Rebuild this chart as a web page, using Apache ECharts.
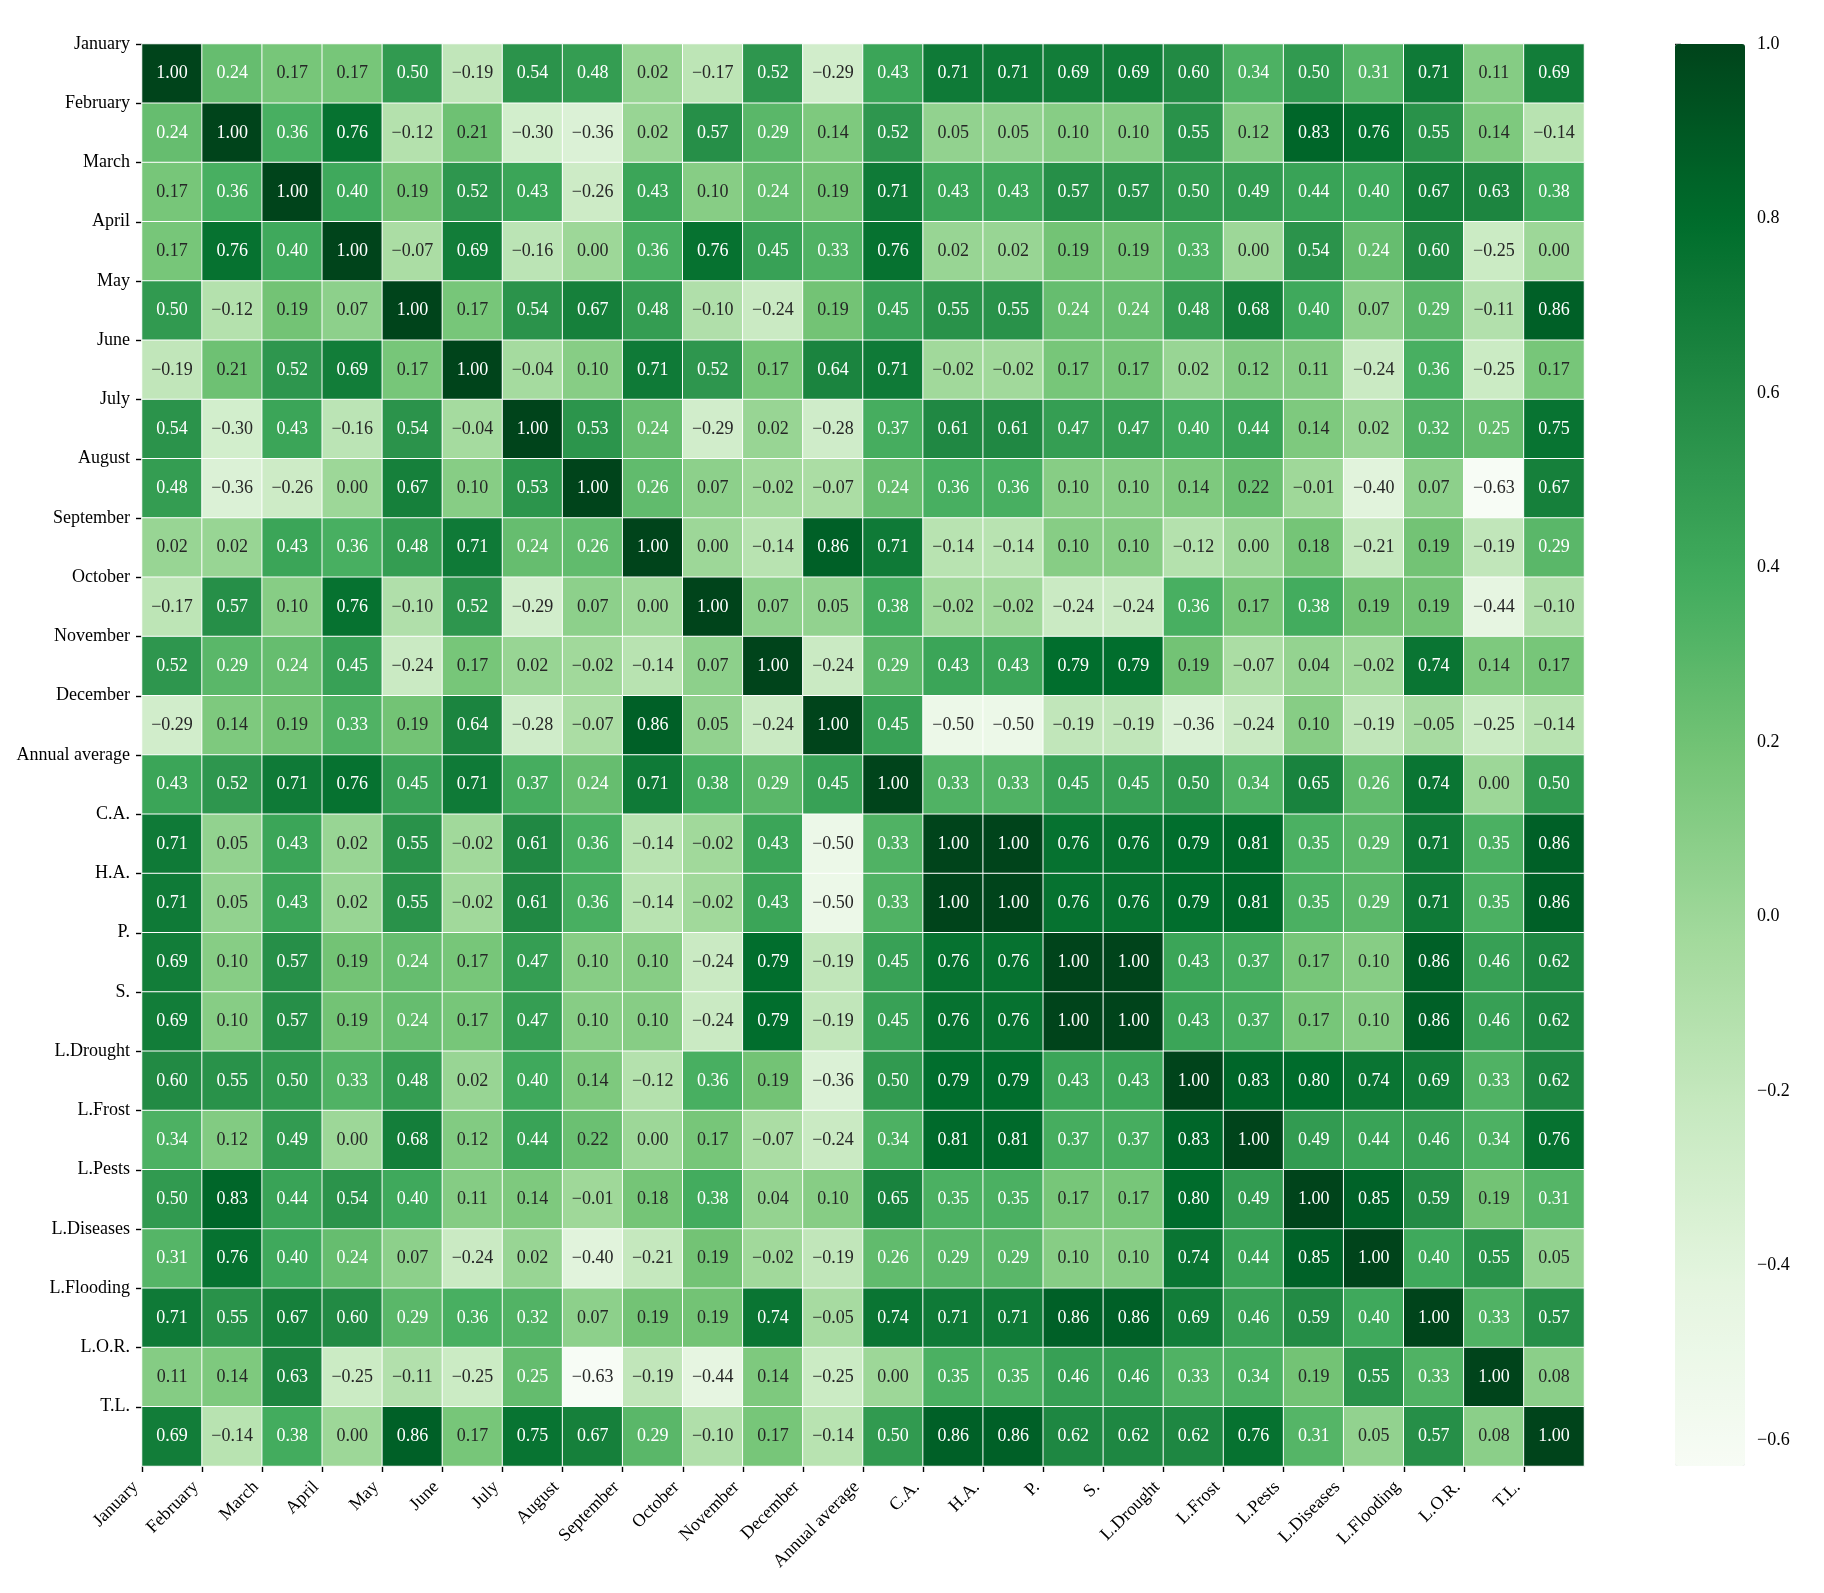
<!DOCTYPE html>
<html>
<head>
<meta charset="utf-8">
<script src="https://cdn.jsdelivr.net/npm/echarts@6/dist/echarts.min.js"></script>
<style>
html,body{margin:0;padding:0;background:#fff;}
#chart{width:1824px;height:1593px;}
</style>
</head>
<body>
<div id="chart"></div>
<script>
const labels = ['January','February','March','April','May','June','July','August','September','October','November','December','Annual average','C.A.','H.A.','P.','S.','L.Drought','L.Frost','L.Pests','L.Diseases','L.Flooding','L.O.R.','T.L.'];

const rowJanuary   = [1.00, 0.24, 0.17, 0.17, 0.50, -0.19, 0.54, 0.48, 0.02, -0.17, 0.52, -0.29, 0.43, 0.71, 0.71, 0.69, 0.69, 0.60, 0.34, 0.50, 0.31, 0.71, 0.11, 0.69];
const rowFebruary  = [0.24, 1.00, 0.36, 0.76, -0.12, 0.21, -0.30, -0.36, 0.02, 0.57, 0.29, 0.14, 0.52, 0.05, 0.05, 0.10, 0.10, 0.55, 0.12, 0.83, 0.76, 0.55, 0.14, -0.14];
const rowMarch     = [0.17, 0.36, 1.00, 0.40, 0.19, 0.52, 0.43, -0.26, 0.43, 0.10, 0.24, 0.19, 0.71, 0.43, 0.43, 0.57, 0.57, 0.50, 0.49, 0.44, 0.40, 0.67, 0.63, 0.38];
const rowApril     = [0.17, 0.76, 0.40, 1.00, -0.07, 0.69, -0.16, 0.00, 0.36, 0.76, 0.45, 0.33, 0.76, 0.02, 0.02, 0.19, 0.19, 0.33, 0.00, 0.54, 0.24, 0.60, -0.25, 0.00];
const rowMay       = [0.50, -0.12, 0.19, 0.07, 1.00, 0.17, 0.54, 0.67, 0.48, -0.10, -0.24, 0.19, 0.45, 0.55, 0.55, 0.24, 0.24, 0.48, 0.68, 0.40, 0.07, 0.29, -0.11, 0.86];
const rowJune      = [-0.19, 0.21, 0.52, 0.69, 0.17, 1.00, -0.04, 0.10, 0.71, 0.52, 0.17, 0.64, 0.71, -0.02, -0.02, 0.17, 0.17, 0.02, 0.12, 0.11, -0.24, 0.36, -0.25, 0.17];
const rowJuly      = [0.54, -0.30, 0.43, -0.16, 0.54, -0.04, 1.00, 0.53, 0.24, -0.29, 0.02, -0.28, 0.37, 0.61, 0.61, 0.47, 0.47, 0.40, 0.44, 0.14, 0.02, 0.32, 0.25, 0.75];
const rowAugust    = [0.48, -0.36, -0.26, 0.00, 0.67, 0.10, 0.53, 1.00, 0.26, 0.07, -0.02, -0.07, 0.24, 0.36, 0.36, 0.10, 0.10, 0.14, 0.22, -0.01, -0.40, 0.07, -0.63, 0.67];
const rowSeptember = [0.02, 0.02, 0.43, 0.36, 0.48, 0.71, 0.24, 0.26, 1.00, 0.00, -0.14, 0.86, 0.71, -0.14, -0.14, 0.10, 0.10, -0.12, 0.00, 0.18, -0.21, 0.19, -0.19, 0.29];
const rowOctober   = [-0.17, 0.57, 0.10, 0.76, -0.10, 0.52, -0.29, 0.07, 0.00, 1.00, 0.07, 0.05, 0.38, -0.02, -0.02, -0.24, -0.24, 0.36, 0.17, 0.38, 0.19, 0.19, -0.44, -0.10];
const rowNovember  = [0.52, 0.29, 0.24, 0.45, -0.24, 0.17, 0.02, -0.02, -0.14, 0.07, 1.00, -0.24, 0.29, 0.43, 0.43, 0.79, 0.79, 0.19, -0.07, 0.04, -0.02, 0.74, 0.14, 0.17];
const rowDecember  = [-0.29, 0.14, 0.19, 0.33, 0.19, 0.64, -0.28, -0.07, 0.86, 0.05, -0.24, 1.00, 0.45, -0.50, -0.50, -0.19, -0.19, -0.36, -0.24, 0.10, -0.19, -0.05, -0.25, -0.14];
const rowAnnual    = [0.43, 0.52, 0.71, 0.76, 0.45, 0.71, 0.37, 0.24, 0.71, 0.38, 0.29, 0.45, 1.00, 0.33, 0.33, 0.45, 0.45, 0.50, 0.34, 0.65, 0.26, 0.74, 0.00, 0.50];
const rowCA        = [0.71, 0.05, 0.43, 0.02, 0.55, -0.02, 0.61, 0.36, -0.14, -0.02, 0.43, -0.50, 0.33, 1.00, 1.00, 0.76, 0.76, 0.79, 0.81, 0.35, 0.29, 0.71, 0.35, 0.86];
const rowHA        = [0.71, 0.05, 0.43, 0.02, 0.55, -0.02, 0.61, 0.36, -0.14, -0.02, 0.43, -0.50, 0.33, 1.00, 1.00, 0.76, 0.76, 0.79, 0.81, 0.35, 0.29, 0.71, 0.35, 0.86];
const rowP         = [0.69, 0.10, 0.57, 0.19, 0.24, 0.17, 0.47, 0.10, 0.10, -0.24, 0.79, -0.19, 0.45, 0.76, 0.76, 1.00, 1.00, 0.43, 0.37, 0.17, 0.10, 0.86, 0.46, 0.62];
const rowS         = [0.69, 0.10, 0.57, 0.19, 0.24, 0.17, 0.47, 0.10, 0.10, -0.24, 0.79, -0.19, 0.45, 0.76, 0.76, 1.00, 1.00, 0.43, 0.37, 0.17, 0.10, 0.86, 0.46, 0.62];
const rowLDrought  = [0.60, 0.55, 0.50, 0.33, 0.48, 0.02, 0.40, 0.14, -0.12, 0.36, 0.19, -0.36, 0.50, 0.79, 0.79, 0.43, 0.43, 1.00, 0.83, 0.80, 0.74, 0.69, 0.33, 0.62];
const rowLFrost    = [0.34, 0.12, 0.49, 0.00, 0.68, 0.12, 0.44, 0.22, 0.00, 0.17, -0.07, -0.24, 0.34, 0.81, 0.81, 0.37, 0.37, 0.83, 1.00, 0.49, 0.44, 0.46, 0.34, 0.76];
const rowLPests    = [0.50, 0.83, 0.44, 0.54, 0.40, 0.11, 0.14, -0.01, 0.18, 0.38, 0.04, 0.10, 0.65, 0.35, 0.35, 0.17, 0.17, 0.80, 0.49, 1.00, 0.85, 0.59, 0.19, 0.31];
const rowLDiseases = [0.31, 0.76, 0.40, 0.24, 0.07, -0.24, 0.02, -0.40, -0.21, 0.19, -0.02, -0.19, 0.26, 0.29, 0.29, 0.10, 0.10, 0.74, 0.44, 0.85, 1.00, 0.40, 0.55, 0.05];
const rowLFlooding = [0.71, 0.55, 0.67, 0.60, 0.29, 0.36, 0.32, 0.07, 0.19, 0.19, 0.74, -0.05, 0.74, 0.71, 0.71, 0.86, 0.86, 0.69, 0.46, 0.59, 0.40, 1.00, 0.33, 0.57];
const rowLOR       = [0.11, 0.14, 0.63, -0.25, -0.11, -0.25, 0.25, -0.63, -0.19, -0.44, 0.14, -0.25, 0.00, 0.35, 0.35, 0.46, 0.46, 0.33, 0.34, 0.19, 0.55, 0.33, 1.00, 0.08];
const rowTL        = [0.69, -0.14, 0.38, 0.00, 0.86, 0.17, 0.75, 0.67, 0.29, -0.10, 0.17, -0.14, 0.50, 0.86, 0.86, 0.62, 0.62, 0.62, 0.76, 0.31, 0.05, 0.57, 0.08, 1.00];

const matrixRows = [rowJanuary, rowFebruary, rowMarch, rowApril, rowMay, rowJune, rowJuly, rowAugust, rowSeptember, rowOctober, rowNovember, rowDecember, rowAnnual, rowCA, rowHA, rowP, rowS, rowLDrought, rowLFrost, rowLPests, rowLDiseases, rowLFlooding, rowLOR, rowTL];

const colorbarTicks = [-0.6, -0.4, -0.2, 0.0, 0.2, 0.4, 0.6, 0.8, 1.0];
const vMin = -0.63, vMax = 1.0;
const greens = ['#f7fcf5','#e5f5e0','#c7e9c0','#a1d99b','#74c476','#41ab5d','#238b45','#006d2c','#00441b'];
const FONT = "'Liberation Serif', 'Times New Roman', serif";

function hexToRgb(h){ return [parseInt(h.slice(1,3),16), parseInt(h.slice(3,5),16), parseInt(h.slice(5,7),16)]; }
function cmap(v){
  let t = (v - vMin) / (vMax - vMin);
  t = Math.max(0, Math.min(1, t));
  const pos = t * (greens.length - 1);
  const i = Math.min(Math.floor(pos), greens.length - 2);
  const f = pos - i;
  const a = hexToRgb(greens[i]), b = hexToRgb(greens[i+1]);
  return a.map((c, k) => c + (b[k] - c) * f);
}
function textColor(v){
  const rgb = cmap(v).map(c => {
    c = c / 255;
    return c <= 0.03928 ? c / 12.92 : Math.pow((c + 0.055) / 1.055, 2.4);
  });
  const lum = 0.2126 * rgb[0] + 0.7152 * rgb[1] + 0.0722 * rgb[2];
  return lum > 0.408 ? '#262626' : '#ffffff';
}
function fmt(v, d){ return v.toFixed(d).replace('-', '\u2212'); }

const heatData = [];
matrixRows.forEach((row, i) => {
  row.forEach((v, j) => {
    heatData.push({ value: [j, i, v], label: { color: textColor(v) } });
  });
});

const idx = labels.map((_, i) => i);

const chart = echarts.init(document.getElementById('chart'));
chart.setOption({
  backgroundColor: '#ffffff',
  animation: false,
  grid: [
    { left: 142, top: 44, width: 1442, height: 1422 },
    { left: 1675, top: 44, width: 70, height: 1422 }
  ],
  xAxis: [
    { type: 'category', data: labels, gridIndex: 0, show: false, position: 'top' },
    { type: 'value', gridIndex: 0, min: 0, max: 24, position: 'bottom',
      axisLine: { show: false }, splitLine: { show: false },
      axisTick: { show: true, length: 6, customValues: idx, lineStyle: { color: '#000', width: 1.4 } },
      axisLabel: { show: true, customValues: idx, rotate: 45, margin: 12, padding: [0, 9, 0, 0], color: '#000',
        fontFamily: FONT, fontSize: 18, formatter: v => labels[v] } },
    { type: 'value', gridIndex: 1, min: 0, max: 1, show: false }
  ],
  yAxis: [
    { type: 'category', data: labels, gridIndex: 0, inverse: true, show: false, position: 'right' },
    { type: 'value', gridIndex: 0, min: 0, max: 24, inverse: true, position: 'left',
      axisLine: { show: false }, splitLine: { show: false },
      axisTick: { show: true, length: 6, customValues: idx, lineStyle: { color: '#000', width: 1.4 } },
      axisLabel: { show: true, customValues: idx, margin: 12, color: '#000',
        fontFamily: FONT, fontSize: 18, formatter: v => labels[v] } },
    { type: 'value', gridIndex: 1, min: vMin, max: vMax, position: 'right',
      axisLine: { show: false }, splitLine: { show: false },
      axisTick: { show: true, length: 6, customValues: colorbarTicks, lineStyle: { color: '#000', width: 1.4 } },
      axisLabel: { show: true, customValues: colorbarTicks, margin: 12, color: '#000',
        fontFamily: FONT, fontSize: 18, formatter: v => fmt(v, 1) } }
  ],
  visualMap: {
    type: 'continuous', min: vMin, max: vMax, seriesIndex: 0,
    inRange: { color: greens },
    left: 1675, top: 44, itemWidth: 70, itemHeight: 1422,
    padding: 0, calculable: false, hoverLink: false, text: null, orient: 'vertical'
  },
  series: [{
    type: 'heatmap',
    xAxisIndex: 0, yAxisIndex: 0,
    data: heatData,
    itemStyle: { borderColor: '#ffffff', borderWidth: 1 },
    label: { show: true, fontFamily: FONT, fontSize: 18, formatter: p => fmt(p.value[2], 2) },
    emphasis: { disabled: true }
  }]
});
</script>
</body>
</html>
